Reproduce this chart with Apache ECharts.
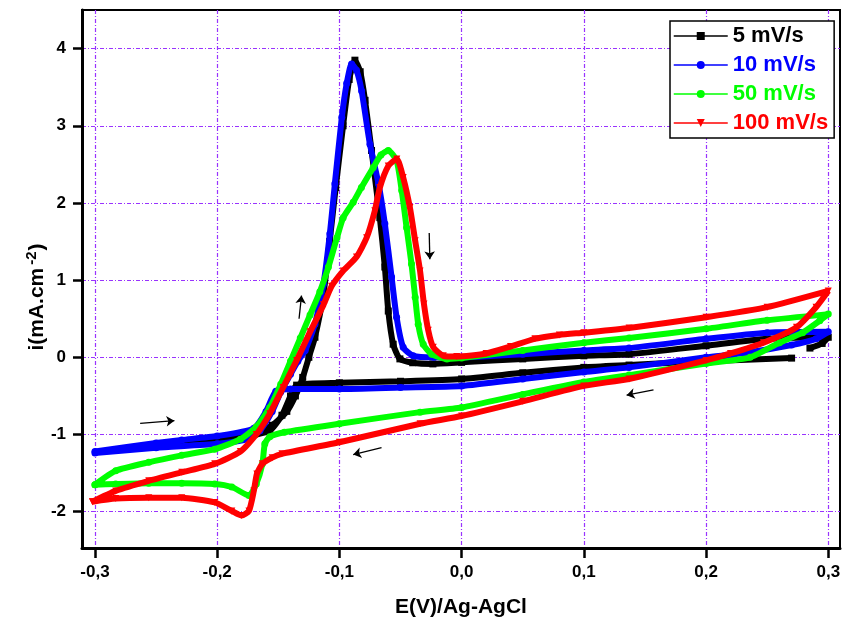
<!DOCTYPE html>
<html><head><meta charset="utf-8">
<script src="https://cdn.jsdelivr.net/npm/echarts@6/dist/echarts.min.js"></script>
<style>html,body{margin:0;padding:0;background:#fff}#c{width:845px;height:625px}</style>
</head><body><div id="c"></div>
<script>
const seriesNames = ['5 mV/s', '10 mV/s', '50 mV/s', '100 mV/s'];
const seriesColors = ['#000000', '#0000ff', '#00ff00', '#ff0000'];
const xTicks = [-0.3, -0.2, -0.1, 0, 0.1, 0.2, 0.3];
const yTicks = [-2, -1, 0, 1, 2, 3, 4];

const cv5 = [[0.27,-0.01],[0.2,-0.05],[0.137,-0.10],[0.1,-0.13],[0.05,-0.2],[0.0,-0.28],[-0.05,-0.31],[-0.1,-0.33],[-0.135,-0.36],
  [-0.14,-0.5],[-0.147,-0.75],[-0.157,-0.95],[-0.18,-1.04],[-0.2,-1.08],[-0.23,-1.12],
  [-0.2,-1.07],[-0.17,-1.0],[-0.155,-0.88],[-0.143,-0.7],[-0.136,-0.5],[-0.13,-0.26],[-0.125,0.0],[-0.12,0.26],[-0.113,0.82],
  [-0.108,1.5],[-0.103,2.2],[-0.097,3.0],[-0.092,3.6],[-0.0873,3.85],[-0.083,3.7],[-0.079,3.33],[-0.0737,2.68],[-0.0669,1.81],
  [-0.0628,1.17],[-0.06,0.6],[-0.056,0.17],[-0.0505,-0.02],[-0.04,-0.07],[-0.0235,-0.085],[0.0,-0.065],[0.05,-0.02],[0.1,0.02],
  [0.137,0.04],[0.2,0.15],[0.25,0.24],[0.3,0.26],[0.295,0.18],[0.285,0.12]];

const cv10 = [[-0.3,-1.24],[-0.25,-1.17],[-0.2,-1.12],[-0.175,-1.06],[-0.165,-0.95],[-0.155,-0.7],[-0.148,-0.45],[-0.14,-0.22],
  [-0.134,-0.05],[-0.128,0.09],[-0.12,0.43],[-0.1175,0.6],[-0.113,0.95],[-0.1078,1.6],[-0.1037,2.25],[-0.098,3.11],[-0.094,3.55],
  [-0.090,3.80],[-0.086,3.72],[-0.0818,3.45],[-0.075,2.76],[-0.068,2.25],[-0.0628,1.73],[-0.0573,1.04],[-0.0532,0.52],[-0.0478,0.13],
  [-0.0396,0.02],[-0.023,0.0],[0.0,0.0],[0.05,0.04],[0.1,0.09],[0.137,0.12],[0.2,0.24],[0.25,0.32],[0.3,0.33],[0.29,0.24],
  [0.27,0.16],[0.233,0.06],[0.2,0.0],[0.137,-0.13],[0.1,-0.19],[0.05,-0.28],[0.0,-0.37],[-0.05,-0.39],[-0.1,-0.41],[-0.14,-0.41],
  [-0.152,-0.44],[-0.16,-0.7],[-0.17,-0.92],[-0.2,-1.02],[-0.229,-1.07],[-0.25,-1.11],[-0.3,-1.22]];

const cv50 = [[-0.3,-1.65],[-0.283,-1.47],[-0.256,-1.36],[-0.229,-1.27],[-0.202,-1.19],[-0.181,-1.06],[-0.168,-0.90],[-0.157,-0.65],
  [-0.148,-0.35],[-0.14,-0.05],[-0.132,0.25],[-0.124,0.55],[-0.116,0.85],[-0.109,1.17],[-0.102,1.55],[-0.0969,1.81],[-0.0887,2.01],
  [-0.082,2.20],[-0.0723,2.46],[-0.066,2.62],[-0.060,2.68],[-0.0532,2.55],[-0.049,2.16],[-0.045,1.68],[-0.041,1.21],[-0.038,0.78],
  [-0.0355,0.43],[-0.0314,0.17],[-0.0245,0.04],[-0.012,-0.02],[0.0,-0.01],[0.05,0.09],[0.1,0.19],[0.137,0.25],[0.2,0.37],[0.25,0.48],
  [0.3,0.56],[0.293,0.475],[0.279,0.32],[0.26,0.19],[0.236,0.0],[0.2,-0.08],[0.137,-0.23],[0.1,-0.32],[0.05,-0.48],[0.0,-0.65],
  [-0.034,-0.71],[-0.1,-0.86],[-0.145,-0.97],[-0.157,-1.03],[-0.161,-1.12],[-0.163,-1.38],[-0.168,-1.64],[-0.174,-1.79],
  [-0.188,-1.68],[-0.202,-1.64],[-0.229,-1.63],[-0.256,-1.63],[-0.283,-1.64],[-0.3,-1.65]];

const cv100 = [[-0.302,-1.87],[-0.283,-1.73],[-0.256,-1.60],[-0.229,-1.49],[-0.202,-1.38],[-0.181,-1.22],[-0.168,-1.0],[-0.157,-0.73],
  [-0.146,-0.39],[-0.135,-0.04],[-0.124,0.33],[-0.113,0.68],[-0.1064,0.92],[-0.0969,1.12],[-0.086,1.30],[-0.0777,1.55],[-0.071,1.90],
  [-0.0669,2.20],[-0.060,2.48],[-0.053,2.57],[-0.0478,2.33],[-0.0423,1.94],[-0.038,1.51],[-0.034,1.12],[-0.0308,0.69],[-0.0273,0.35],
  [-0.0232,0.13],[-0.015,0.02],[-0.004,0.01],[0.02,0.05],[0.04,0.14],[0.06,0.24],[0.08,0.29],[0.1,0.32],[0.137,0.38],[0.2,0.52],
  [0.25,0.65],[0.3,0.86],[0.29,0.65],[0.274,0.39],[0.247,0.19],[0.22,0.05],[0.2,-0.04],[0.137,-0.28],[0.1,-0.37],[0.05,-0.57],
  [0.0,-0.76],[-0.034,-0.86],[-0.1,-1.10],[-0.147,-1.25],[-0.155,-1.30],[-0.163,-1.38],[-0.1675,-1.51],[-0.170,-1.73],[-0.174,-1.99],
  [-0.18,-2.05],[-0.188,-1.99],[-0.202,-1.88],[-0.229,-1.82],[-0.256,-1.82],[-0.283,-1.83],[-0.302,-1.87]];

const arrowLines = [
  [[-0.263,-0.855],[-0.235,-0.82]],
  [[-0.133,0.50],[-0.131,0.80]],
  [[-0.0265,1.61],[-0.026,1.27]],
  [[0.157,-0.42],[0.135,-0.49]],
  [[-0.0655,-1.17],[-0.0887,-1.26]]
];

const FONT = "'Liberation Sans', Arial, sans-serif";
const allData = [cv5, cv10, cv50, cv100];
const symbols = ['rect', 'circle', 'circle', 'triangle'];
const rotations = [0, 0, 0, 180];

function fmt(v) {
  const r = Math.round(v * 10) / 10;
  return (r === 0 ? 0 : r).toFixed(1).replace('.', ',');
}

const chart = echarts.init(document.getElementById('c'), null, {renderer: 'canvas'});
const series = allData.map((d, i) => ({
  name: seriesNames[i],
  type: 'line',
  data: d,
  smooth: 0.2,
  symbol: symbols[i],
  symbolRotate: rotations[i],
  symbolSize: 7,
  showSymbol: true,
  showAllSymbol: true,
  lineStyle: {width: 6, color: seriesColors[i]},
  itemStyle: {color: seriesColors[i]},
  z: 2 + i,
  emphasis: {disabled: true},
  animation: false
}));
series.push({
  type: 'lines',
  coordinateSystem: 'cartesian2d',
  data: arrowLines.map(c => ({coords: c})),
  symbol: ['none', 'arrow'],
  symbolSize: 8,
  lineStyle: {color: '#000', width: 1.3, opacity: 1, curveness: 0},
  z: 20,
  silent: true,
  animation: false
});

chart.setOption({
  animation: false,
  backgroundColor: '#fff',
  grid: {left: 82, right: 5, top: 10, bottom: 77, show: true, borderColor: '#000', borderWidth: 2, backgroundColor: 'transparent'},
  xAxis: {
    type: 'value', min: -0.3106, max: 0.3096,
    axisLine: {onZero: false, lineStyle: {color: '#000', width: 3}},
    axisTick: {show: true, inside: false, length: 10, lineStyle: {width: 2.5, color: '#000'}, customValues: xTicks},
    axisLabel: {customValues: xTicks, formatter: fmt, margin: 16, color: '#000', fontFamily: FONT, fontWeight: 'bold', fontSize: 17},
    splitLine: {show: true, lineStyle: {color: '#9933ff', width: 1.2, type: [4, 2, 1, 2]}},
    name: 'E(V)/Ag-AgCl', nameLocation: 'middle', nameGap: 49,
    nameTextStyle: {color: '#000', fontFamily: FONT, fontWeight: 'bold', fontSize: 21}
  },
  yAxis: {
    type: 'value', min: -2.47, max: 4.5,
    axisLine: {onZero: false, lineStyle: {color: '#000', width: 3}},
    axisTick: {show: true, inside: false, length: 9, lineStyle: {width: 2.5, color: '#000'}, customValues: yTicks},
    axisLabel: {customValues: yTicks, margin: 16, color: '#000', fontFamily: FONT, fontWeight: 'bold', fontSize: 17},
    splitLine: {show: true, lineStyle: {color: '#9933ff', width: 1.2, type: [4, 2, 1, 2]}}
  },
  legend: {
    left: 670, top: 21, orient: 'vertical',
    padding: [4, 6, 4, 3], itemGap: 7, itemWidth: 54, itemHeight: 10,
    borderColor: '#000', borderWidth: 1.5, backgroundColor: '#fff',
    lineStyle: {width: 1.5},
    data: seriesNames.map((n, i) => ({name: n, textStyle: {color: seriesColors[i]}})),
    textStyle: {fontFamily: FONT, fontWeight: 'bold', fontSize: 22, lineHeight: 22},
    selectedMode: false
  },
  graphic: [{
    type: 'text', x: 37, y: 297, rotation: Math.PI / 2,
    style: {
      text: '{a|i(mA.cm}{b|-2}{a|)}',
      align: 'center', verticalAlign: 'middle',
      rich: {
        a: {fontFamily: FONT, fontWeight: 'bold', fontSize: 21, fill: '#000', lineHeight: 24},
        b: {fontFamily: FONT, fontWeight: 'bold', fontSize: 15, fill: '#000', lineHeight: 24, padding: [0, 1, 10, 3]}
      }
    }
  }],
  series: series
});
</script></body></html>
